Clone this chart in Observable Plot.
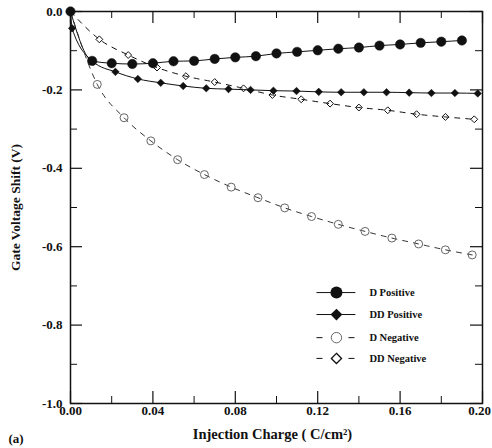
<!DOCTYPE html>
<html>
<head>
<meta charset="utf-8">
<script src="https://cdn.jsdelivr.net/npm/d3@7"></script>
<script src="https://cdn.jsdelivr.net/npm/@observablehq/plot@0.6"></script>
<style>
  html, body { margin: 0; padding: 0; background: #fff; }
  svg text { font-family: 'Liberation Serif', 'Times New Roman', serif; }
</style>
</head>
<body>
<div id="chart"></div>
<script>
// ---- tick values ----
const xMajor = [0, 0.04, 0.08, 0.12, 0.16, 0.20];
const xMinor = [0.02, 0.06, 0.10, 0.14, 0.18];
const yMajor = [0, -0.2, -0.4, -0.6, -0.8, -1.0];
const yMinor = [-0.1, -0.3, -0.5, -0.7, -0.9];

// ---- series ----
const seriesNames = ["D Positive", "DD Positive", "D Negative", "DD Negative"];

const dPosX = [0, 0.0105, 0.020, 0.030, 0.040, 0.050, 0.060, 0.070, 0.080, 0.090, 0.100, 0.110, 0.120, 0.130, 0.140, 0.150, 0.160, 0.170, 0.180, 0.190];
const dPosY = [0, -0.126, -0.132, -0.134, -0.132, -0.127, -0.126, -0.121, -0.117, -0.114, -0.107, -0.103, -0.099, -0.095, -0.092, -0.087, -0.084, -0.080, -0.077, -0.074];

const ddPosX = [0.0008, 0.011, 0.0218, 0.0327, 0.0438, 0.0547, 0.0659, 0.0767, 0.0874, 0.0985, 0.1097, 0.1205, 0.1314, 0.1424, 0.1534, 0.1644, 0.1752, 0.1866, 0.1977];
const ddPosY = [-0.043, -0.128, -0.154, -0.172, -0.182, -0.190, -0.196, -0.198, -0.200, -0.202, -0.203, -0.205, -0.206, -0.206, -0.206, -0.207, -0.208, -0.208, -0.209];

const dNegX = [0.013, 0.026, 0.039, 0.052, 0.065, 0.078, 0.091, 0.104, 0.117, 0.130, 0.143, 0.156, 0.169, 0.182, 0.195];
const dNegY = [-0.186, -0.271, -0.330, -0.378, -0.416, -0.448, -0.475, -0.501, -0.523, -0.543, -0.561, -0.578, -0.593, -0.608, -0.621];

const ddNegX = [0.014, 0.028, 0.042, 0.056, 0.070, 0.084, 0.098, 0.112, 0.126, 0.140, 0.154, 0.168, 0.182, 0.196];
const ddNegY = [-0.071, -0.111, -0.143, -0.165, -0.180, -0.196, -0.213, -0.224, -0.235, -0.245, -0.252, -0.262, -0.269, -0.275];

// legend layout (data units inside the frame)
const legendRowsY = [-0.717, -0.773, -0.832, -0.885];
const legendLine = [0.1194, 0.1383];
const legendMarkerX = 0.1291;
const legendTextX = 0.1451;

// ---- build tables ----
const toPts = (xs, ys) => xs.map((x, i) => ({x, y: ys[i]}));
const dPos = toPts(dPosX, dPosY);
const ddPos = toPts(ddPosX, ddPosY);
const dNeg = toPts(dNegX, dNegY);
const ddNeg = toPts(ddNegX, ddNegY);
const origin = {x: 0, y: 0};
const withOrigin = (pts) => pts[0].x === 0 ? pts : [origin, ...pts];

const legend = seriesNames.map((name, i) => ({name, y: legendRowsY[i]}));

const W = 492, H = 448;
const mL = 70, mR = 10, mT = 11, mB = 45;
const fw = W - mL - mR, fh = H - mT - mB;
const font = "'Liberation Serif', 'Times New Roman', serif";
const ink = "#111";
const grayInk = "#666";

const majorLen = 12, minorLen = 7;
const xTickFmt = d => d.toFixed(2);
const tickTextStyle = {fontSize: 13, fontWeight: "bold", fontFamily: font, fill: ink, label: null};

const chart = Plot.plot({
  width: W,
  height: H,
  marginLeft: mL,
  marginRight: mR,
  marginTop: mT,
  marginBottom: mB,
  x: {domain: [0, 0.2]},
  y: {domain: [-1, 0]},
  style: {fontFamily: font, fontWeight: "bold", fontSize: "12px", background: "#fff", color: ink, overflow: "visible"},
  marks: [
    // lines
    Plot.line(withOrigin(dPos), {x: "x", y: "y", stroke: ink, strokeWidth: 1, curve: "monotone-x"}),
    Plot.line(withOrigin(ddPos), {x: "x", y: "y", stroke: ink, strokeWidth: 1, curve: "monotone-x"}),
    Plot.line(withOrigin(dNeg), {x: "x", y: "y", stroke: "#333", strokeWidth: 1, strokeDasharray: "5,6", curve: "monotone-x"}),
    Plot.line(withOrigin(ddNeg), {x: "x", y: "y", stroke: ink, strokeWidth: 1, strokeDasharray: "5,6", curve: "monotone-x"}),
    // markers
    Plot.dot(dPos, {x: "x", y: "y", r: 4.7, fill: ink, stroke: ink, strokeWidth: 0.5}),
    Plot.dot(ddPos, {x: "x", y: "y", r: 3.4, symbol: "diamond2", fill: ink, stroke: ink, strokeWidth: 0.5}),
    Plot.dot(dNeg, {x: "x", y: "y", r: 4, fill: "none", stroke: grayInk, strokeWidth: 1}),
    Plot.dot(ddNeg, {x: "x", y: "y", r: 3.1, symbol: "diamond2", fill: "none", stroke: ink, strokeWidth: 1}),
    // frame
    Plot.frame({stroke: ink, strokeWidth: 1.5}),
    // inward ticks: bottom/top
    Plot.tickX(xMajor, {x: d => d, insetTop: fh - majorLen, stroke: ink, strokeWidth: 1.2}),
    Plot.tickX(xMinor, {x: d => d, insetTop: fh - minorLen, stroke: ink, strokeWidth: 1}),
    Plot.tickX(xMajor, {x: d => d, insetBottom: fh - majorLen, stroke: ink, strokeWidth: 1.2}),
    Plot.tickX(xMinor, {x: d => d, insetBottom: fh - minorLen, stroke: ink, strokeWidth: 1}),
    // inward ticks: left/right
    Plot.tickY(yMajor, {y: d => d, insetRight: fw - majorLen, stroke: ink, strokeWidth: 1.2}),
    Plot.tickY(yMinor, {y: d => d, insetRight: fw - minorLen, stroke: ink, strokeWidth: 1}),
    Plot.tickY(yMajor, {y: d => d, insetLeft: fw - majorLen, stroke: ink, strokeWidth: 1.2}),
    Plot.tickY(yMinor, {y: d => d, insetLeft: fw - minorLen, stroke: ink, strokeWidth: 1}),
    // tick labels (last x label nudged so it stays inside the picture)
    Plot.axisX(xMajor.slice(0, -1), {tickSize: 0, tickPadding: 2, tickFormat: xTickFmt, ...tickTextStyle}),
    Plot.axisX(xMajor.slice(-1), {tickSize: 0, tickPadding: 2, tickFormat: xTickFmt, dx: -3, ...tickTextStyle}),
    Plot.axisY(yMajor, {tickSize: 0, tickPadding: 8, tickFormat: d => d.toFixed(1), ...tickTextStyle}),
    // axis titles
    Plot.text(["Gate Voltage Shift (V)"], {text: d => d, frameAnchor: "left", dx: -55, rotate: -90, textAnchor: "middle", fontSize: 13.5, fontWeight: "bold", fontFamily: font, fill: ink}),
    Plot.text(["Injection Charge ( C/cm\u00B2)"], {text: d => d, frameAnchor: "bottom", dx: -4, dy: 35, textAnchor: "middle", fontSize: 14.5, fontWeight: "bold", fontFamily: font, fill: ink}),
    Plot.text(["(a)"], {text: d => d, frameAnchor: "bottom-left", dx: -62, dy: 39, textAnchor: "start", fontSize: 13, fontWeight: "bold", fontFamily: font, fill: ink}),
    // legend
    Plot.link(legend.slice(0, 2), {x1: () => legendLine[0], x2: () => legendLine[1], y1: "y", y2: "y", stroke: ink, strokeWidth: 1}),
    Plot.link(legend.slice(2), {x1: () => legendLine[0], x2: () => legendLine[1], y1: "y", y2: "y", stroke: ink, strokeWidth: 1, strokeDasharray: "6,26"}),
    Plot.dot([legend[0]], {x: () => legendMarkerX, y: "y", r: 6, fill: ink}),
    Plot.dot([legend[1]], {x: () => legendMarkerX, y: "y", r: 5.3, symbol: "diamond2", fill: ink}),
    Plot.dot([legend[2]], {x: () => legendMarkerX, y: "y", r: 5.2, fill: "#fff", stroke: grayInk, strokeWidth: 1}),
    Plot.dot([legend[3]], {x: () => legendMarkerX, y: "y", r: 4.6, symbol: "diamond2", fill: "#fff", stroke: ink, strokeWidth: 1.3}),
    Plot.text(legend, {x: () => legendTextX, y: "y", text: "name", textAnchor: "start", fontSize: 10.5, fontWeight: "bold", fontFamily: font, fill: ink})
  ]
});
document.getElementById("chart").appendChild(chart);
</script>
</body>
</html>
